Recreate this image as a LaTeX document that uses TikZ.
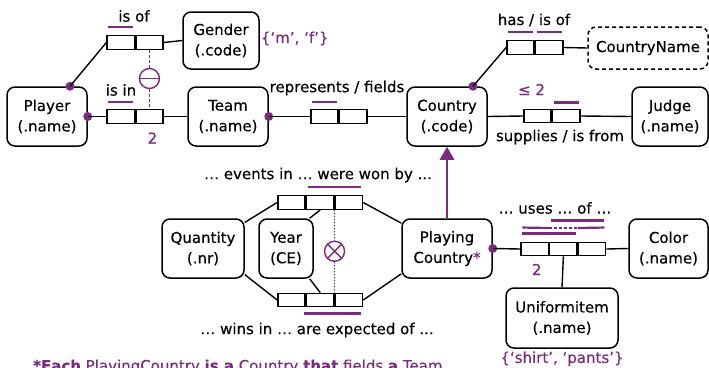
\documentclass[tikz,border=0pt]{standalone}
\usepackage{fontspec}
\setmainfont{DejaVu Sans}[FakeBold=0.4]
\usetikzlibrary{arrows.meta,calc}
\definecolor{ormpurple}{HTML}{7B2C80}
\begin{document}
\begin{tikzpicture}[x=1pt,y=-1pt,
  font=\fontsize{15}{20.5}\selectfont,
  entity/.style={draw, line width=1.5pt, rounded corners=8pt, align=center, inner sep=0pt},
  role/.style={draw, line width=1.4pt, minimum width=27.3pt, minimum height=13.5pt, inner sep=0pt},
  link/.style={line width=1.4pt},
  ubar/.style={draw=ormpurple, line width=2.2pt},
  mdot/.style={circle, fill=ormpurple, inner sep=0pt, minimum size=9pt},
  cons/.style={text=ormpurple, inner sep=0pt},
  lbl/.style={inner sep=0pt},
  xcircle/.style={circle, draw=ormpurple, line width=1.4pt, minimum size=20pt, inner sep=0pt}]
\useasboundingbox (0,0) rectangle (709,367);

% ---- object types ----
\node[entity, minimum width=80pt, minimum height=59pt] (Player) at (47,116.5) {Player\\(.name)};
\node[entity, minimum width=76pt, minimum height=57pt] (Gender) at (221,40.5) {Gender\\(.code)};
\node[entity, minimum width=80pt, minimum height=59pt] (Team) at (228,116.5) {Team\\(.name)};
\node[entity, minimum width=80pt, minimum height=59pt] (Country) at (447,116.5) {Country\\(.code)};
\node[entity, dash pattern=on 4pt off 3pt, minimum width=120pt, minimum height=42pt] (CName) at (648,48) {CountryName};
\node[entity, minimum width=76pt, minimum height=59pt] (Judge) at (670,116.5) {Judge\\(.name)};
\node[entity, minimum width=82pt, minimum height=59pt] (Quantity) at (203,248.5) {Quantity\\(.nr)};
\node[entity, minimum width=54pt, minimum height=59pt] (Year) at (286,248.5) {Year\\(CE)};
\node[entity, minimum width=90pt, minimum height=59pt] (PC) at (447,248.5) {Playing\\Country{\color{ormpurple}*}};
\node[entity, minimum width=79pt, minimum height=59pt] (Color) at (668.5,248.5) {Color\\(.name)};
\node[entity, minimum width=112pt, minimum height=60pt] (Uniform) at (562,318) {Uniformitem\\(.name)};

% ---- fact types (role boxes) ----
\node[role] (isof1) at (120.75,42.5) {};
\node[role, anchor=west] (isof2) at (isof1.east) {};
\node[role] (isin1) at (120.75,116.5) {};
\node[role, anchor=west] (isin2) at (isin1.east) {};
\node[role] (repr1) at (324.5,116.5) {};
\node[role, anchor=west] (repr2) at (repr1.east) {};
\node[role] (has1) at (520.5,47.5) {};
\node[role, anchor=west] (has2) at (has1.east) {};
\node[role] (supp1) at (537.5,116) {};
\node[role, anchor=west] (supp2) at (supp1.east) {};
\node[role] (won1) at (291.5,202.5) {};
\node[role, anchor=west] (won2) at (won1.east) {};
\node[role, anchor=west] (won3) at (won2.east) {};
\node[role] (wins1) at (291.5,300) {};
\node[role, anchor=west] (wins2) at (wins1.east) {};
\node[role, anchor=west] (wins3) at (wins2.east) {};
\node[role] (uses1) at (534.7,249) {};
\node[role, anchor=west] (uses2) at (uses1.east) {};
\node[role, anchor=west] (uses3) at (uses2.east) {};

% ---- reading labels ----
\node[lbl] (lisof) at (134,16) {is of};
\node[lbl] (lisin) at (121,90) {is in};
\node[lbl] (lrepr) at (337,88) {represents / fields};
\node[lbl] (lhas) at (534,20) {has / is of};
\node[lbl] (lsupp) at (560,137) {supplies / is from};
\node[lbl] (lwon) at (318,175) {… events in … were won by ...};
\node[lbl] (lwins) at (317,330) {… wins in … are expected of ...};
\node[lbl] (luses) at (555,208) {… uses … of …};

% ---- mandatory role dots ----
\node[mdot] (dPlayerTop) at ($(Player.north)+(23,0)$) {};
\node[mdot] (dPlayerE) at (Player.east) {};
\node[mdot] (dTeamE) at (Team.east) {};
\node[mdot] (dCountryTop) at ($(Country.north)+(26,0)$) {};
\node[mdot] (dPCE) at (PC.east) {};

% ---- connectors ----
\draw[link] (dPlayerTop.center) -- (isof1.west);
\draw[link] (isof2.east) -- (Gender.west);
\draw[link] (dPlayerE.center) -- (isin1.west);
\draw[link] (isin2.east) -- (Team.west);
\draw[link] (dTeamE.center) -- (repr1.west);
\draw[link] (repr2.east) -- (Country.west);
\draw[link] (dCountryTop.center) -- (has1.west);
\draw[link] (has2.east) -- (CName.west);
\draw[link] (Country.east) -- (supp1.west);
\draw[link] (supp2.east) -- (Judge.west);
\draw[link] (Quantity.32) -- (won1.west);
\draw[link] (Quantity.-32) -- (wins1.west);
\draw[link] (Year.52) -- (won2.south);
\draw[link] (Year.-52) -- (wins2.north);
\draw[link] (PC.151) -- (won3.east);
\draw[link] (PC.-151) -- (wins3.east);
\draw[link] (dPCE.center) -- (uses1.west);
\draw[link] (uses3.east) -- (Color.west);
\draw[link] (uses2.south) -- (Uniform.north);

% ---- subtype link ----
\draw[ormpurple, line width=2.6pt, -{Triangle[length=13pt,width=14pt]}] (PC.north) -- (Country.south);

% ---- uniqueness constraints ----
\draw[ubar] ($(isof1.north west)+(2,-8)$) -- ($(isof1.north east)+(-2,-8)$);
\draw[ubar] ($(isin1.north west)+(2,-7)$) -- ($(isin1.north east)+(-2,-7)$);
\draw[ubar] ($(repr1.north west)+(2,-7)$) -- ($(repr1.north east)+(-2,-7)$);
\draw[ubar] ($(has1.north west)+(2,-8)$) -- ($(has1.north east)+(-2,-8)$);
\draw[ubar] ($(has2.north west)+(2,-8)$) -- ($(has2.north east)+(-2,-8)$);
\draw[ubar] ($(supp2.north west)+(2,-6)$) -- ($(supp2.north east)+(-2,-6)$);
\draw[ubar] ($(won2.north west)+(2,-8)$) -- ($(won3.north east)+(-2,-8)$);
\draw[ubar] ($(wins2.south west)+(-2,6)$) -- ($(wins3.south east)+(-2,6)$);
\draw[ubar] ($(uses2.north west)+(2,-21)$) -- ($(uses3.north east)+(-2,-21)$);
\draw[ubar] ($(uses1.north west)+(2,-14)$) -- (uses1.north east |- 0,228);
\draw[ubar, dash pattern=on 3pt off 2pt] (uses2.north west |- 0,228) -- (uses2.north east |- 0,228);
\draw[ubar] (uses3.north west |- 0,228) -- ($(uses3.north east)+(-2,-14)$);
\draw[ubar] ($(uses1.north west)+(2,-8)$) -- ($(uses2.north east)+(-2,-8)$);

% ---- frequency and value constraints ----
\node[cons] (f1) at ($(isin2.south)+(3,14)$) {2};
\node[cons] (f2) at ($(uses1.south)+(2,13)$) {2};
\node[cons] (f3) at ($(supp1.north)+(-6,-19)$) {≤ 2};
\node[cons, anchor=west] (vGender) at ($(Gender.east)+(1,-2)$) {\{‘m’, ‘f’\}};
\node[cons] (vUniform) at ($(Uniform.south)+(0,10)$) {\{‘shirt’, ‘pants’\}};

% ---- set-comparison constraints ----
\node[xcircle] (xo1) at ($(isof2.center)!0.5!(isin2.center)+(0,-1)$) {};
\draw[ormpurple, line width=1.4pt] (xo1.west) -- (xo1.east);
\draw[ormpurple, line width=1.3pt, dash pattern=on 3pt off 2pt] (isof2.south) -- (xo1.north);
\draw[ormpurple, line width=1.3pt, dash pattern=on 3pt off 2pt] (xo1.south) -- (isin2.north);

\node[xcircle] (xo2) at ($(won2.south east)!0.5!(wins2.north east)$) {};
\draw[ormpurple, line width=1.4pt] (xo2.45) -- (xo2.225) (xo2.135) -- (xo2.-45);
\draw[ormpurple, line width=1.3pt, dash pattern=on 1.5pt off 1.5pt] (won2.south east) -- (xo2.north);
\draw[ormpurple, line width=1.3pt, dash pattern=on 1.5pt off 1.5pt] (xo2.south) -- (wins2.north east);

% ---- subtype definition ----
\node[lbl, anchor=base west, text=ormpurple] (note) at (33,371) {\textbf{*Each} PlayingCountry \textbf{is a} Country \textbf{that} fields \textbf{a} Team.};
\end{tikzpicture}
\end{document}
